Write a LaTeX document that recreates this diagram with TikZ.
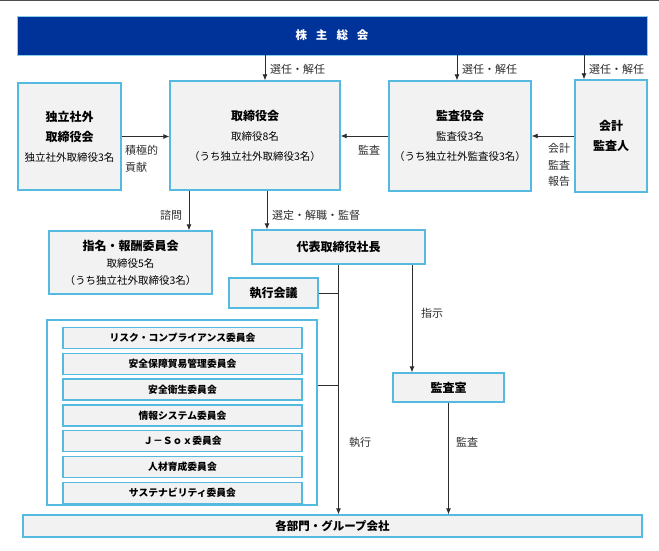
\documentclass[tikz,border=0pt]{standalone}
\usepackage{fontspec}
\setmainfont{Noto Sans CJK JP}
\usetikzlibrary{arrows.meta}

\definecolor{navy}{RGB}{0,51,153}
\definecolor{frame}{RGB}{84,186,224}
\definecolor{pane}{RGB}{242,242,242}
\definecolor{ink}{RGB}{45,45,45}
\newcommand{\boxhead}[1]{{\bfseries\fontsize{12}{20}\selectfont #1}}

\begin{document}
\begin{tikzpicture}[x=1pt,y=-1pt,
	box/.style={draw=frame, fill=pane, line width=1.3pt, inner sep=0pt, align=center, font=\fontsize{10.5}{20}\selectfont},
	title/.style={box, font=\bfseries\fontsize{12}{14}\selectfont},
	comm/.style={box, minimum width=239, minimum height=21, font=\bfseries\fontsize{9.8}{11}\selectfont},
	wire/.style={draw=ink, line width=0.8pt},
	arr/.style={wire, -{Latex[length=6pt,width=5pt]}},
	lbl/.style={inner sep=0pt, text=ink, align=center, font=\fontsize{11}{17}\selectfont}]
	\useasboundingbox (0,0) rectangle (659,551);
	\draw[gray!60!black, line width=1.2pt] (0,0.6) -- (659,0.6);

	\node[fill=navy, draw=frame!70, line width=0.8pt, minimum width=630, minimum height=39, text=white, font=\bfseries\fontsize{11.5}{13}\selectfont] (agm) at (332,35.5) {株\hspace{9pt}主\hspace{9pt}総\hspace{9pt}会};

	\node[box, minimum width=103, minimum height=107] (indep) at (69.5,136.5) {\boxhead{独立社外}\\\boxhead{取締役会}\\独立社外取締役3名};
	\node[box, minimum width=170, minimum height=109] (board) at (255,135.5) {\boxhead{取締役会}\\取締役8名\\（うち独立社外取締役3名）};
	\node[box, minimum width=142, minimum height=110] (audit) at (460,136) {\boxhead{監査役会}\\監査役3名\\（うち独立社外監査役3名）};
	\node[box, minimum width=72, minimum height=112] (auditor) at (611,136) {\boxhead{会計}\\\boxhead{監査人}};

	\node[box, minimum width=163, minimum height=63, font=\fontsize{10.5}{17}\selectfont] (nomcom) at (130.5,262.5) {{\bfseries\fontsize{12}{17}\selectfont 指名・報酬委員会}\\取締役5名\\（うち独立社外取締役3名）};
	\node[title, minimum width=173, minimum height=34] (ceo) at (338.5,247) {代表取締役社長};
	\node[title, minimum width=89, minimum height=30] (execmtg) at (273.5,293) {執行会議};
	\node[draw=frame, fill=white, line width=1.3pt, minimum width=270, minimum height=185] (comms) at (182,412.5) {};
	\foreach \t [count=\i] in {リスク・コンプライアンス委員会, 安全保障貿易管理委員会, 安全衛生委員会, 情報システム委員会, Ｊ－Ｓｏｘ委員会, 人材育成委員会, サステナビリティ委員会}
		\node[comm] (comm\i) at (182.5,{338+(\i-1)*25.8}) {\t};
	\node[title, minimum width=111, minimum height=29] (auditoff) at (448.5,387.5) {監査室};
	\node[box, minimum width=619, minimum height=22, font=\bfseries\fontsize{11.5}{13}\selectfont] (depts) at (332.5,526) {各部門・グループ会社};

	\coordinate (s1) at ([xshift=10pt]board.north);
	\coordinate (s2) at ([xshift=-3pt]audit.north);
	\coordinate (s3) at ([xshift=-27pt]auditor.north);
	\draw[arr] (s1 |- agm.south) -- (s1);
	\draw[arr] (s2 |- agm.south) -- (s2);
	\draw[arr] (s3 |- agm.south) -- (s3);
	\node[lbl, anchor=west] (l1) at (270,69) {選任・解任};
	\node[lbl, anchor=west] (l2) at (462,69) {選任・解任};
	\node[lbl, anchor=west] (l3) at (589,69) {選任・解任};

	\draw[arr] (indep.east) -- (indep.east -| board.west);
	\draw[arr] (audit.west) -- (audit.west -| board.east);
	\draw[arr] (auditor.west) -- (auditor.west -| audit.east);
	\node[lbl, anchor=west, align=left] (l4) at (125,158.5) {積極的\\貢献};
	\node[lbl] (l5) at (369,150) {監査};
	\node[lbl, font=\fontsize{11}{16.5}\selectfont] (l6) at (559,165) {会計\\監査\\報告};

	\coordinate (s4) at ([xshift=-66pt]board.south);
	\coordinate (s5) at ([xshift=12pt]board.south);
	\draw[arr] (s4) -- (s4 |- nomcom.north);
	\draw[arr] (s5) -- (s5 |- ceo.north);
	\node[lbl] (l7) at (171,215) {諮問};
	\node[lbl, anchor=west] (l8) at (272,215) {選定・解職・監督};

	\coordinate (s6) at ([xshift=73.5pt]ceo.south);
	\draw[arr] (ceo.south) -- (ceo.south |- depts.north);
	\draw[wire] (execmtg.east) -- (execmtg.east -| ceo.south);
	\draw[wire] ([yshift=27.5pt]comms.east) -- ([yshift=27.5pt]comms.east -| ceo.south);
	\draw[arr] (s6) -- (s6 |- auditoff.north);
	\draw[arr] (auditoff.south) -- (auditoff.south |- depts.north);
	\node[lbl] (l9) at (432,313) {指示};
	\node[lbl] (l10) at (360,442) {執行};
	\node[lbl] (l11) at (467,442) {監査};
\end{tikzpicture}
\end{document}
